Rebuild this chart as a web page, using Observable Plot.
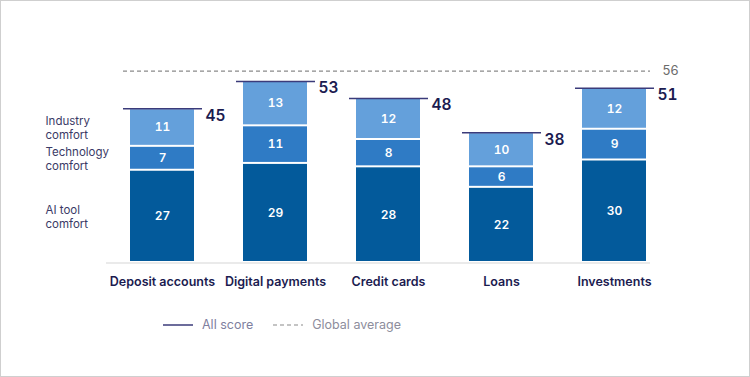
<!DOCTYPE html>
<html>
<head>
<meta charset="utf-8">
<script src="https://cdn.jsdelivr.net/npm/d3@7"></script>
<script src="https://cdn.jsdelivr.net/npm/@observablehq/plot@0.6"></script>
<style>
  html, body { margin: 0; padding: 0; background: #fff; }
  #wrap { position: relative; width: 750px; height: 377px; overflow: hidden; font-family: Inter, "Open Sans", sans-serif; }
  #wrap::after { content: ""; position: absolute; inset: 0; border: 1px solid #cfcfcf; pointer-events: none; }
  #legend { position: absolute; left: 163px; top: 317px; display: flex; align-items: center; font-size: 12.5px; color: #8d8d9c; }
  #legend .item { display: flex; align-items: center; margin-right: 20px; }
  #legend svg { margin-right: 9px; }
</style>
</head>
<body>
<div id="wrap">
  <div id="chart"></div>
  <div id="legend">
    <div class="item"><svg width="30" height="4"><line x1="0" x2="30" y1="2" y2="2" stroke="#3b3b7a" stroke-width="1.5"/></svg><span style="color:#7f7fa0">All score</span></div>
    <div class="item"><svg width="30" height="4"><line x1="0" x2="30" y1="2" y2="2" stroke="#8a8a8a" stroke-width="1.2" stroke-dasharray="4,3"/></svg><span>Global average</span></div>
  </div>
</div>
<script>
const categories = ["Deposit accounts", "Digital payments", "Credit cards", "Loans", "Investments"];
const seriesNames = ["AI tool comfort", "Technology comfort", "Industry comfort"];
const seriesLabels = ["AI tool\ncomfort", "Technology\ncomfort", "Industry\ncomfort"];
const aiTool = [27, 29, 28, 22, 30];
const technology = [7, 11, 8, 6, 9];
const industry = [11, 13, 12, 10, 12];
const totals = [45, 53, 48, 38, 51];
const globalAverage = 56;
const colors = ["#035a9b", "#2f7bc5", "#64a0db"];

const seriesValues = [aiTool, technology, industry];
const rows = [];
seriesNames.forEach((s, si) => {
  categories.forEach((c, ci) => {
    rows.push({category: c, series: s, label: seriesLabels[si], value: seriesValues[si][ci]});
  });
});
const totalRows = categories.map((c, i) => ({category: c, total: totals[i]}));
const firstRows = rows.filter(d => d.category === categories[0]);

const chart = Plot.plot({
  width: 750,
  height: 300,
  marginLeft: 106,
  marginRight: 100,
  marginTop: 57,
  marginBottom: 38,
  style: {fontFamily: "Inter, 'Open Sans', sans-serif", background: "transparent", overflow: "visible"},
  x: {domain: categories, paddingInner: 0.434, paddingOuter: 0.124, align: 0.857, label: null},
  y: {domain: [0, 60], axis: null},
  color: {domain: seriesNames, range: colors},
  marks: [
    Plot.ruleY([0], {stroke: "#e3e3e3", strokeWidth: 1.5, dy: 0.5}),
    Plot.ruleY([globalAverage], {stroke: "#8a8a8a", strokeWidth: 1.2, strokeDasharray: "4,3", insetLeft: 17}),
    Plot.text([globalAverage], {y: d => d, text: d => String(d), frameAnchor: "right", textAnchor: "start", dx: 12, fill: "#6b6b6b", fontSize: 13}),
    Plot.barY(rows, Plot.stackY({x: "category", y: "value", z: "series", fill: "series", insetTop: 1, insetBottom: 1})),
    Plot.text(rows, Plot.stackY({x: "category", y: "value", z: "series", text: "value", fill: "white", fontSize: 12, fontWeight: 600})),
    Plot.tickY(totalRows, {x: "category", y: "total", stroke: "#3b3b7a", strokeWidth: 1.5, insetLeft: -7, insetRight: -8}),
    Plot.text(totalRows, {x: "category", y: "total", text: "total", textAnchor: "start", dx: 43, dy: 7, fill: "#1b1b50", fontSize: 15.5, fontWeight: 600}),
    Plot.text(firstRows, Plot.stackY({x: "category", y: "value", z: "series", text: "label", textAnchor: "start", dx: -117, dy: 0, fill: "#3a3a66", fontSize: 11.5, lineHeight: 1.22})),
    Plot.axisX({tickSize: 0, tickPadding: 15, fontSize: 12.5, fontWeight: 600, color: "#1b1b50", label: null})
  ]
});
document.getElementById("chart").appendChild(chart);
</script>
</body>
</html>
